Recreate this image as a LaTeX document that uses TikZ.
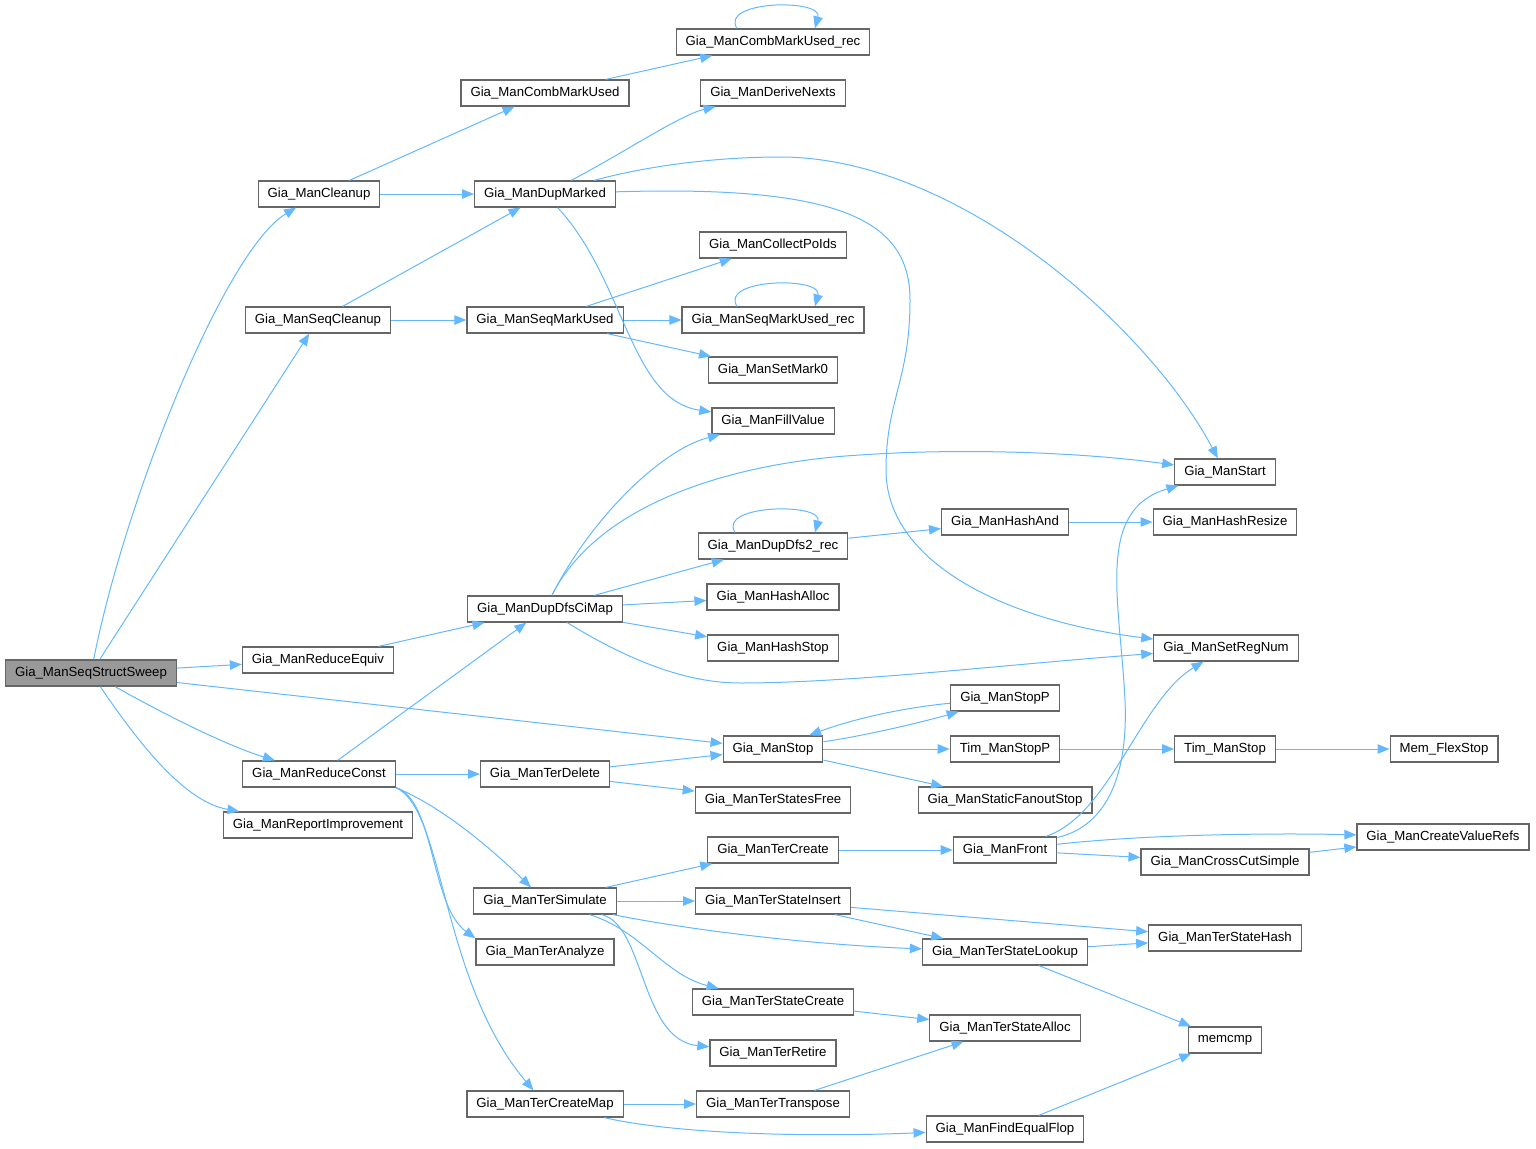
\documentclass[tikz,border=0pt]{standalone}
\usepackage{fontspec}
\setmainfont{Liberation Sans}
\usepackage{xcolor}
\usetikzlibrary{arrows.meta}
\definecolor{edgeblue}{HTML}{63B8FF}
\definecolor{boxgray}{HTML}{666666}
\definecolor{rootgray}{HTML}{999999}
\tikzset{
  gbox/.style={draw=boxgray, line width=1.2pt, rectangle, font=\fontsize{13.2}{15}\selectfont, inner xsep=9.5pt, inner ysep=0pt, minimum height=26pt},
  garr/.style={-{Triangle[length=12pt,width=9.5pt]}, draw=edgeblue, line width=1pt}
}
\begin{document}
\begin{tikzpicture}[x=1pt,y=1pt]
\useasboundingbox (0,0) rectangle (1536,-1148);
% column 0 and 1
\node[gbox, fill=rootgray] (sweep) at (91,-673) {Gia\_ManSeqStructSweep};
\node[gbox] (cleanup) at (319,-194) {Gia\_ManCleanup};
\node[gbox] (seqcleanup) at (318,-320) {Gia\_ManSeqCleanup};
\node[gbox] (redequiv) at (318,-660) {Gia\_ManReduceEquiv};
\node[gbox] (redconst) at (319,-774) {Gia\_ManReduceConst};
\node[gbox] (reportimp) at (318,-825) {Gia\_ManReportImprovement};
% column 2
\node[gbox] (combmark) at (545,-93) {Gia\_ManCombMarkUsed};
\node[gbox] (dupmarked) at (545,-194) {Gia\_ManDupMarked};
\node[gbox] (seqmark) at (545,-320) {Gia\_ManSeqMarkUsed};
\node[gbox] (dupdfs) at (545,-609) {Gia\_ManDupDfsCiMap};
\node[gbox] (terdelete) at (545,-774) {Gia\_ManTerDelete};
\node[gbox] (tersim) at (545,-901) {Gia\_ManTerSimulate};
\node[gbox] (teranalyze) at (545,-952) {Gia\_ManTerAnalyze};
\node[gbox] (tercmap) at (545,-1104) {Gia\_ManTerCreateMap};
% column 3
\node[gbox] (combrec) at (773,-42) {Gia\_ManCombMarkUsed\_rec};
\node[gbox] (derivenexts) at (773,-93) {Gia\_ManDeriveNexts};
\node[gbox] (collectpo) at (773,-245) {Gia\_ManCollectPoIds};
\node[gbox] (seqrec) at (773,-320) {Gia\_ManSeqMarkUsed\_rec};
\node[gbox] (setmark) at (773,-370) {Gia\_ManSetMark0};
\node[gbox] (fillvalue) at (773,-421) {Gia\_ManFillValue};
\node[gbox] (dfs2rec) at (773,-546) {Gia\_ManDupDfs2\_rec};
\node[gbox] (hashalloc) at (773,-597) {Gia\_ManHashAlloc};
\node[gbox] (hashstop) at (773,-648) {Gia\_ManHashStop};
\node[gbox] (manstop) at (773,-749) {Gia\_ManStop};
\node[gbox] (statesfree) at (773,-800) {Gia\_ManTerStatesFree};
\node[gbox] (tercreate) at (773,-850) {Gia\_ManTerCreate};
\node[gbox] (stateins) at (773,-901) {Gia\_ManTerStateInsert};
\node[gbox] (statecreate) at (773,-1002) {Gia\_ManTerStateCreate};
\node[gbox] (terretire) at (773,-1053) {Gia\_ManTerRetire};
\node[gbox] (transpose) at (773,-1104) {Gia\_ManTerTranspose};
% column 4
\node[gbox] (hashand) at (1005,-522) {Gia\_ManHashAnd};
\node[gbox] (manstopp) at (1005,-698) {Gia\_ManStopP};
\node[gbox] (timstopp) at (1005,-749) {Tim\_ManStopP};
\node[gbox] (fanoutstop) at (1005,-800) {Gia\_ManStaticFanoutStop};
\node[gbox] (front) at (1005,-850) {Gia\_ManFront};
\node[gbox] (statelookup) at (1005,-952) {Gia\_ManTerStateLookup};
\node[gbox] (statealloc) at (1005,-1028) {Gia\_ManTerStateAlloc};
\node[gbox] (findeq) at (1005,-1129) {Gia\_ManFindEqualFlop};
% column 5 and 6
\node[gbox] (manstart) at (1225,-472) {Gia\_ManStart};
\node[gbox] (hashresize) at (1225,-522) {Gia\_ManHashResize};
\node[gbox] (setregnum) at (1226,-648) {Gia\_ManSetRegNum};
\node[gbox] (timstop) at (1225,-749) {Tim\_ManStop};
\node[gbox] (crosscut) at (1225,-862) {Gia\_ManCrossCutSimple};
\node[gbox] (statehash) at (1225,-938) {Gia\_ManTerStateHash};
\node[gbox] (memcmp) at (1225,-1040) {memcmp};
\node[gbox] (memflex) at (1444,-749) {Mem\_FlexStop};
\node[gbox] (valuerefs) at (1443,-837) {Gia\_ManCreateValueRefs};
% calls from the root
\draw[garr] (sweep) .. controls (125,-500) and (225,-250) .. (cleanup);
\draw[garr] (sweep) -- (seqcleanup);
\draw[garr] (sweep) -- (redequiv);
\draw[garr] (sweep) .. controls (160,-712) and (225,-745) .. (redconst);
\draw[garr] (sweep) .. controls (140,-745) and (185,-802) .. (reportimp);
\draw[garr] (sweep) -- (manstop);
% second level
\draw[garr] (cleanup) -- (combmark);
\draw[garr] (cleanup) -- (dupmarked);
\draw[garr] (seqcleanup) -- (dupmarked);
\draw[garr] (seqcleanup) -- (seqmark);
\draw[garr] (redequiv) -- (dupdfs);
\draw[garr] (redconst) -- (dupdfs);
\draw[garr] (redconst) -- (terdelete);
\draw[garr] (redconst.south east) .. controls (450,-810) and (505,-862) .. (tersim);
\draw[garr] (redconst.south east) .. controls (435,-800) and (430,-905) .. (teranalyze.north west);
\draw[garr] (redconst.south east) .. controls (445,-810) and (440,-980) .. (tercmap);
% third level
\draw[garr] (combmark) -- (combrec);
\draw[garr] ([xshift=-36pt]combrec.north) .. controls +(-18,28) and +(8,30) .. ([xshift=42pt]combrec.north);
\draw[garr] (dupmarked) .. controls (620,-155) and (680,-115) .. (derivenexts);
\draw[garr] (dupmarked) .. controls (650,-165) and (720,-157) .. (780,-157)
  .. controls (960,-157) and (1150,-330) .. (manstart);
\draw[garr] (dupmarked) .. controls (840,-185) and (910,-220) .. (910,-300)
  .. controls (910,-380) and (886,-400) .. (886,-470)
  .. controls (886,-560) and (1000,-620) .. (setregnum);
\draw[garr] (dupmarked) .. controls (625,-280) and (630,-400) .. (fillvalue);
\draw[garr] (seqmark) -- (collectpo);
\draw[garr] (seqmark) -- (seqrec);
\draw[garr] ([xshift=-36pt]seqrec.north) .. controls +(-18,28) and +(8,30) .. ([xshift=42pt]seqrec.north);
\draw[garr] (seqmark) -- (setmark);
\draw[garr] (dupdfs) .. controls (590,-520) and (660,-450) .. (fillvalue);
\draw[garr] (dupdfs) .. controls (600,-500) and (740,-462) .. (860,-455)
  .. controls (960,-448) and (1080,-452) .. (manstart);
\draw[garr] (dupdfs) -- (dfs2rec);
\draw[garr] (dupdfs) -- (hashalloc);
\draw[garr] (dupdfs) -- (hashstop);
\draw[garr] (dupdfs) .. controls (620,-655) and (680,-683) .. (740,-683)
  .. controls (850,-683) and (1000,-665) .. (setregnum);
\draw[garr] ([xshift=-38pt]dfs2rec.north) .. controls +(-18,28) and +(8,30) .. ([xshift=42pt]dfs2rec.north);
\draw[garr] (dfs2rec) -- (hashand);
\draw[garr] (hashand) -- (hashresize);
\draw[garr] (terdelete) -- (manstop);
\draw[garr] (terdelete) -- (statesfree);
\draw[garr] (tersim) -- (tercreate);
\draw[garr] (tersim) -- (stateins);
\draw[garr] (tersim) .. controls (700,-932) and (820,-945) .. (statelookup);
\draw[garr] (tersim) .. controls (640,-930) and (665,-975) .. (statecreate);
\draw[garr] (tersim) .. controls (645,-925) and (640,-1040) .. (terretire);
\draw[garr] (tercmap) -- (transpose);
\draw[garr] (tercmap) .. controls (680,-1135) and (820,-1137) .. (findeq);
% fourth level
\draw[garr] (manstop) .. controls (870,-735) and (930,-720) .. (manstopp);
\draw[garr] (manstopp) .. controls (900,-708) and (850,-720) .. (manstop);
\draw[garr] (manstop) -- (timstopp);
\draw[garr] (manstop) -- (fanoutstop);
\draw[garr] (timstopp) -- (timstop);
\draw[garr] (timstop) -- (memflex);
\draw[garr] (tercreate) -- (front);
\draw[garr] (front) .. controls (1110,-825) and (1128,-770) .. (1125,-700)
  .. controls (1120,-600) and (1095,-510) .. (manstart);
\draw[garr] (front) .. controls (1110,-815) and (1140,-700) .. (setregnum);
\draw[garr] (front) .. controls (1150,-834) and (1280,-833) .. (valuerefs);
\draw[garr] (front) -- (crosscut);
\draw[garr] (crosscut) -- (valuerefs);
\draw[garr] (stateins) -- (statehash);
\draw[garr] (stateins) -- (statelookup);
\draw[garr] (statelookup) -- (statehash);
\draw[garr] (statelookup) -- (memcmp);
\draw[garr] (statecreate) -- (statealloc);
\draw[garr] (transpose) -- (statealloc);
\draw[garr] (findeq) -- (memcmp);
\end{tikzpicture}
\end{document}
